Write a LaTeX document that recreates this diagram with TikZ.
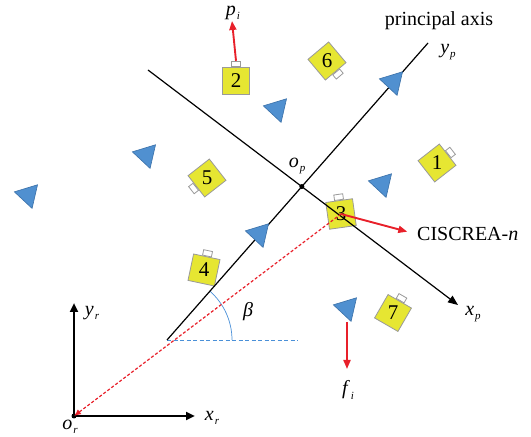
\documentclass[tikz,border=0pt]{standalone}
\usepackage{fontspec}
\setmainfont{Liberation Serif}
\usetikzlibrary{arrows.meta,positioning,shapes.geometric,calc}
\definecolor{robotyellow}{HTML}{E6E632}
\definecolor{robotedge}{HTML}{9A9A9A}
\definecolor{trifill}{HTML}{5090D0}
\definecolor{triedge}{HTML}{3A70A8}
\definecolor{forcered}{HTML}{E8202A}
\definecolor{refblue}{HTML}{4A90D8}
\newcommand{\axlab}[2]{\textit{#1}\kern1pt\raisebox{-0.45ex}{\fontsize{11}{11}\selectfont\textit{#2}}}
\tikzset{
  rbody/.style={draw=robotedge, fill=robotyellow, minimum size=27pt, inner sep=0pt, line width=0.8pt},
  rtab/.style={draw=robotedge, fill=white, minimum width=9pt, minimum height=5.5pt, inner sep=0pt, anchor=south, line width=0.8pt},
  rnum/.style={font=\fontsize{21}{21}\selectfont, inner sep=0pt},
  rtri/.style={regular polygon, regular polygon sides=3, draw=triedge, fill=trifill, minimum size=28pt, inner sep=0pt, rotate=-43, line width=0.6pt},
  tlabel/.style={font=\fontsize{20}{22}\selectfont, inner sep=1pt},
  paxis/.style={line width=1.2pt},
  raxis/.style={line width=2.4pt, -{Triangle[length=9pt,width=8pt]}},
  redarrow/.style={forcered, line width=1.9pt, -{Triangle[length=9pt,width=7pt]}},
  reddash/.style={forcered, line width=1.2pt, dash pattern=on 3pt off 2pt, -{Latex[length=7pt,width=6pt]}},
  refline/.style={refblue, line width=0.9pt, dash pattern=on 4pt off 2.5pt},
  dotmark/.style={circle, fill=black, minimum size=5pt, inner sep=0pt}
}
\begin{document}
\begin{tikzpicture}[x=1pt,y=1pt]
\useasboundingbox (0,0) rectangle (531,437);

% frames
\coordinate (Or) at (74,21);
\coordinate (yrtip) at (74,134);
\coordinate (xrtip) at (195,21);
\coordinate (ys) at (167,97);
\coordinate (ye) at (428,394);
\coordinate (xs) at (148,367);
\coordinate (xe) at (458,132);
\coordinate (refend) at (298,97);
\coordinate (Op) at (intersection of xs--xe and ys--ye);
\coordinate (pitip) at (232,416);
\coordinate (fitip) at (347,68);

% robots
\node[rbody, rotate=-52] (r1) at (437,274) {};
\node[rtab, rotate=-52] (r1t) at (r1.north) {};
\node[rnum] (n1) at (r1) {1};
\node[rbody] (r2) at (236,356) {};
\node[rtab] (r2t) at (r2.north) {};
\node[rnum] (n2) at (r2) {2};
\node[rbody, rotate=8] (r3) at (341,223) {};
\node[rtab, rotate=8] (r3t) at (r3.north) {};
\node[rnum] (n3) at (r3) {3};
\node[rbody, rotate=-12] (r4) at (204,167) {};
\node[rtab, rotate=-12] (r4t) at (r4.north) {};
\node[rnum] (n4) at (r4) {4};
\node[rbody, rotate=128] (r5) at (207,259) {};
\node[rtab, rotate=128] (r5t) at (r5.north) {};
\node[rnum] (n5) at (r5) {5};
\node[rbody, rotate=-140] (r6) at (327,376) {};
\node[rtab, rotate=-140] (r6t) at (r6.north) {};
\node[rnum] (n6) at (r6) {6};
\node[rbody, rotate=-30] (r7) at (393,124) {};
\node[rtab, rotate=-30] (r7t) at (r7.north) {};
\node[rnum] (n7) at (r7) {7};

% axes
\draw[refline] (ys) -- (refend);
\draw[refblue, line width=0.7pt] ($(ys)+(65,0)$) arc[start angle=0, end angle=48.7, radius=65];
\draw[paxis] (ys) -- (ye);
\draw[paxis, -{Triangle[length=10pt,width=8pt]}] (xs) -- (xe);
\draw[raxis] (Or) -- (yrtip);
\draw[raxis] (Or) -- (xrtip);
\node[dotmark] (opdot) at (Op) {};
\node[dotmark] (ordot) at (Or) {};

% leaders
\node[tlabel] (plab) at (439,416) {principal axis};
\node[tlabel] (yplab) at (448,385) {\axlab{y}{p}};
\node[tlabel] (xplab) at (473,123) {\axlab{x}{p}};
\node[tlabel] (oplab) at (297,271) {\axlab{o}{p}};
\node[tlabel] (yrlab) at (92,124) {\axlab{y}{r}};
\node[tlabel] (xrlab) at (212,19) {\axlab{x}{r}};
\node[tlabel] (orlab) at (70,10) {\axlab{o}{r}};
\node[tlabel] (betalab) at (248,125) {\textit{β}};
\node[tlabel] (pilab) at (233,424) {\axlab{p}{i}};
\node[tlabel] (filab) at (348,47) {\axlab{f}{i}};
\node[tlabel, anchor=west] (cislab) at (416,203) {CISCREA-\textit{n}};

\draw[reddash] (r3.center) -- (Or);
\draw[redarrow, shorten >=9pt] (r3.center) -- (cislab.west);
\draw[redarrow] (r2t.north) -- (pitip);

% flow markers
\node[rtri] (tri1) at (277,328) {};
\node[rtri] (tri2) at (146,282) {};
\node[rtri] (tri3) at (28,242) {};
\node[rtri] (tri4) at (382,253) {};
\node[rtri] (tri5) at (393,355) {};
\node[rtri] (tri6) at (259,203) {};
\node[rtri] (tri7) at (347,129) {};
\draw[redarrow] (tri7.corner 3 -| fitip) -- (fitip);
\end{tikzpicture}
\end{document}
